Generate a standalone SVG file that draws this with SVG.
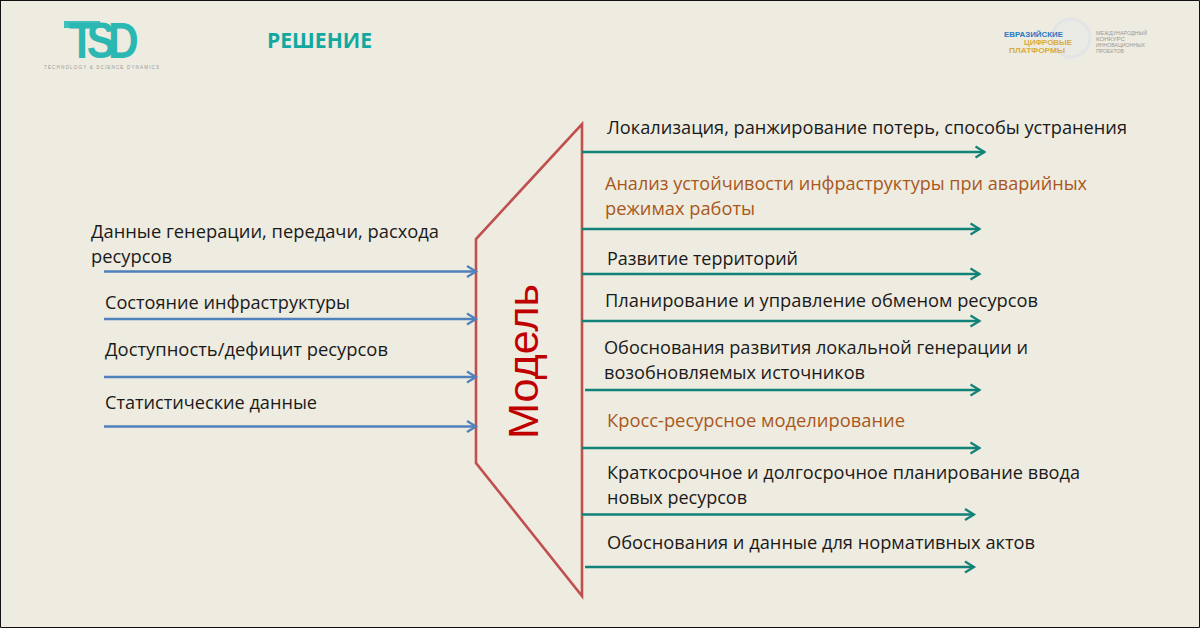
<svg xmlns="http://www.w3.org/2000/svg" width="1200" height="628" viewBox="0 0 1200 628">
<style>
text{font-family:"Open Sans","Noto Sans","Liberation Sans",sans-serif}
.t{font-size:17.5px;fill:#1a1a1a}
.o{font-size:17.5px;fill:#a9581c}
.b{fill:none;stroke:#4f81bd;stroke-width:2.4}
.g{fill:none;stroke:#128278;stroke-width:2.4}
.l{font-family:"Liberation Sans",sans-serif}
</style>
<defs>
<marker id="ab" markerUnits="userSpaceOnUse" markerWidth="14" markerHeight="14" refX="11" refY="7" orient="auto"><path d="M2 1.5L11 7L2 12.5" fill="none" stroke="#4f81bd" stroke-width="2.2"/></marker>
<marker id="ag" markerUnits="userSpaceOnUse" markerWidth="14" markerHeight="14" refX="11" refY="7" orient="auto"><path d="M2 1.5L11 7L2 12.5" fill="none" stroke="#128278" stroke-width="2.2"/></marker>
<linearGradient id="lg" x1="0" y1="0" x2="1" y2="1"><stop offset="0" stop-color="#5fcdc6"/><stop offset="1" stop-color="#12a8a4"/></linearGradient>
</defs>
<rect width="1200" height="628" fill="#eeebe0"/>
<path d="M0 .5H1199.500V627.500H.5V0" fill="none" stroke="#111" stroke-width="1"/>
<g id="logo-tsd">
<path d="M64 21H100V28H64Z" fill="#3fc0ba"/>
<text class="l" transform="translate(69 58) scale(.85 1)" font-size="50" font-weight="700" fill="#2bb7b2" x="0 21 46">TSD</text>
<text class="l" x="44" y="69" font-size="4.500" fill="#999" textLength="115">TECHNOLOGY &amp; SCIENCE DYNAMICS</text>
</g>
<g id="title"><text x="267" y="48" font-size="21" font-weight="700" fill="#12a8a0" textLength="105" lengthAdjust="spacingAndGlyphs">РЕШЕНИЕ</text></g>
<g id="logo-edp">
<circle cx="1071" cy="38" r="19" fill="#ebebe6" stroke="#e2e4e6" stroke-width="3"/>
<g font-size="7.500" font-weight="700">
<text class="l" x="1004" y="36.500" fill="#2b78c2" textLength="59" lengthAdjust="spacingAndGlyphs">ЕВРАЗИЙСКИЕ</text>
<text class="l" x="1024" y="44.500" fill="#d9ad3c" textLength="48" lengthAdjust="spacingAndGlyphs">ЦИФРОВЫЕ</text>
<text class="l" x="1009" y="53" fill="#d9ad3c" textLength="56" lengthAdjust="spacingAndGlyphs">ПЛАТФОРМЫ</text>
</g>
<g font-size="5.500" fill="#9a9a98">
<text class="l" x="1096" y="35" textLength="51" lengthAdjust="spacingAndGlyphs">МЕЖДУНАРОДНЫЙ</text>
<text class="l" x="1096" y="41" textLength="29" lengthAdjust="spacingAndGlyphs">КОНКУРС</text>
<text class="l" x="1096" y="47" textLength="49" lengthAdjust="spacingAndGlyphs">ИННОВАЦИОННЫХ</text>
<text class="l" x="1096" y="53" textLength="28" lengthAdjust="spacingAndGlyphs">ПРОЕКТОВ</text>
</g>
</g>
<g id="model">
<path d="M582 124V596L476 463V239Z" fill="none" stroke="#c0504d" stroke-width="2.600"/>
<text class="l" transform="translate(538 439) rotate(-90)" font-size="42" fill="#c00000" textLength="155" lengthAdjust="spacingAndGlyphs">Модель</text>
</g>
<g id="connectors">
<path class="b" marker-end="url(#ab)" d="M104 271.500H476"/>
<path class="b" marker-end="url(#ab)" d="M104 319H476"/>
<path class="b" marker-end="url(#ab)" d="M104 377H476"/>
<path class="b" marker-end="url(#ab)" d="M104 426.500H476"/>
<path class="g" marker-end="url(#ag)" d="M582 152H984.500"/>
<path class="g" marker-end="url(#ag)" d="M582 229H979.500"/>
<path class="g" marker-end="url(#ag)" d="M582 274H979.500"/>
<path class="g" marker-end="url(#ag)" d="M582 321H979.500"/>
<path class="g" marker-end="url(#ag)" d="M585 390H979.500"/>
<path class="g" marker-end="url(#ag)" d="M582 448H979.500"/>
<path class="g" marker-end="url(#ag)" d="M582 514.500H974"/>
<path class="g" marker-end="url(#ag)" d="M585 567H974"/>
</g>
<g id="inputs">
<text class="t" x="91" y="238" textLength="348" lengthAdjust="spacingAndGlyphs">Данные генерации, передачи, расхода</text>
<text class="t" x="91" y="263" textLength="81" lengthAdjust="spacingAndGlyphs">ресурсов</text>
<text class="t" x="105" y="309" textLength="245" lengthAdjust="spacingAndGlyphs">Состояние инфраструктуры</text>
<text class="t" x="105" y="356" textLength="283" lengthAdjust="spacingAndGlyphs">Доступность/дефицит ресурсов</text>
<text class="t" x="105" y="409" textLength="212" lengthAdjust="spacingAndGlyphs">Статистические данные</text>
</g>
<g id="outputs">
<text class="t" x="607" y="134" textLength="520" lengthAdjust="spacingAndGlyphs">Локализация, ранжирование потерь, способы устранения</text>
<text class="o" x="605" y="190" textLength="482" lengthAdjust="spacingAndGlyphs">Анализ устойчивости инфраструктуры при аварийных</text>
<text class="o" x="605" y="215" textLength="150" lengthAdjust="spacingAndGlyphs">режимах работы</text>
<text class="t" x="607" y="265" textLength="191" lengthAdjust="spacingAndGlyphs">Развитие территорий</text>
<text class="t" x="605" y="307" textLength="433" lengthAdjust="spacingAndGlyphs">Планирование и управление обменом ресурсов</text>
<text class="t" x="604" y="354" textLength="424" lengthAdjust="spacingAndGlyphs">Обоснования развития локальной генерации и</text>
<text class="t" x="604" y="379" textLength="261" lengthAdjust="spacingAndGlyphs">возобновляемых источников</text>
<text class="o" x="607" y="427" textLength="298" lengthAdjust="spacingAndGlyphs">Кросс-ресурсное моделирование</text>
<text class="t" x="607" y="479" textLength="473" lengthAdjust="spacingAndGlyphs">Краткосрочное и долгосрочное планирование ввода</text>
<text class="t" x="607" y="504" textLength="140" lengthAdjust="spacingAndGlyphs">новых ресурсов</text>
<text class="t" x="607" y="549" textLength="428" lengthAdjust="spacingAndGlyphs">Обоснования и данные для нормативных актов</text>
</g>
</svg>
